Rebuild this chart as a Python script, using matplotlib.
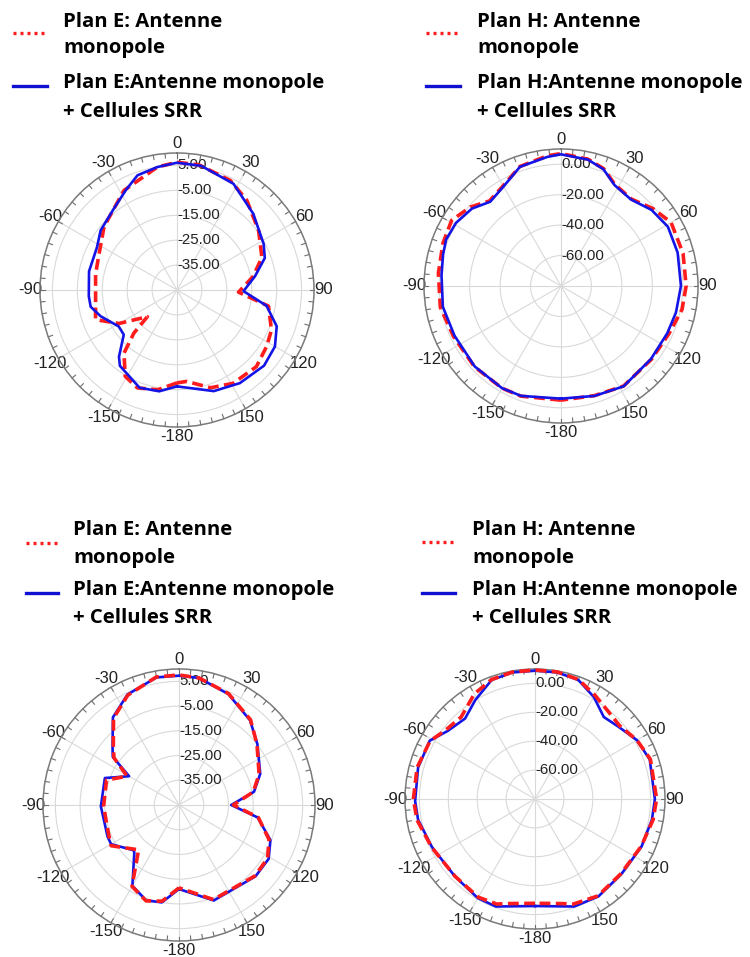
import numpy as np
import matplotlib.pyplot as plt
from matplotlib.lines import Line2D

plt.rcParams['font.family'] = ['Liberation Sans', 'DejaVu Sans']

W, H = 750, 957

# angle labels (deg) shown round every polar plot
theta_ticks = [0, 30, 60, 90, 120, 150, 180, 210, 240, 270, 300, 330]
theta_labels = ['0', '30', '60', '90', '120', '150', '-180', '-150', '-120', '-90', '-60', '-30']

# radial rings (dB)
rings_E = [-35, -25, -15, -5, 5]
rings_H = [-60, -40, -20, 0]

# ---- top left: plan E ----
ang_E1_ant = [-180, -169, -158, -149, -140, -135, -132, -120, -110, -92, -79, -65, -49, -28, -9,
              0, 10, 26, 38, 54, 69, 80, 92, 100, 113, 122, 134, 149, 161, 174]
gain_E1_ant = [-7.7, -4.2, -2.6, -4.6, -11.9, -20.5, -29.0, -18.1, -10.2, -12.3, -11.7, -10.5, -6.2, 0.3, 5.0,
               6.3, 6.0, 3.9, 0.6, -4.5, -8.5, -14.0, -20.3, -7.7, -3.8, -2.5, -0.7, -1.3, -3.5, -8.1]
ang_E1_srr = [-180, -170, -159, -143, -139, -130, -122, -109, -101, -94, -78, -62, -52, -38, -27, -19, -9,
              0, 11, 28, 45, 62, 70, 80, 91, 100, 110, 120, 131, 146, 160]
gain_E1_srr = [-6.3, -3.7, -3.0, -6.9, -9.5, -17.1, -17.4, -12.6, -9.7, -9.5, -8.9, -8.6, -6.1, -3.7, 0.1, 3.7, 5.0,
               6.1, 5.8, 3.3, -1.7, -5.6, -7.5, -13.2, -18.3, -8.5, -2.4, 0.4, 1.3, 0.1, -1.8]

# ---- top right: plan H ----
ang_H1_ant = [-180, -160, -150, -133, -115, -100, -84, -70, -59, -49, -40, -30, -19, -6,
              0, 12, 20, 28, 39, 50, 60, 75, 90, 101, 114, 129, 148, 163]
gain_H1_ant = [-5.0, -3.0, -2.5, -2.2, -2.0, 0.5, 1.0, 2.5, 3.8, -1.0, -7.0, -4.0, 3.0, 6.0,
               7.0, 5.2, 2.0, -4.5, -6.5, -1.0, 3.5, 3.0, 2.2, 1.0, -2.5, -3.5, -2.5, -4.7]
ang_H1_srr = [-180, -160, -150, -133, -115, -100, -85, -75, -68, -59, -49, -40, -30, -19, -6,
              0, 12, 20, 28, 39, 50, 61, 74, 90, 103, 114, 129, 148, 163]
gain_H1_srr = [-6.0, -3.2, -2.5, -2.5, -2.8, -1.2, -1.2, 0.2, 1.4, 0.5, -2.5, -7.7, -4.5, 2.8, 5.3,
               6.5, 4.9, 1.6, -5.0, -6.9, -2.3, 0.3, -0.3, -1.2, -2.5, -3.6, -3.9, -2.3, -4.5]

# ---- bottom left: plan E ----
ang_E2_ant = [-180, -170, -161, -150, -138, -121, -114, -91, -71, -61, -54, -49, -37, -25, -10,
              0, 9, 24, 40, 52, 69, 80, 90, 99, 111, 121, 133, 160]
gain_E2_ant = [-11.5, -5.5, -4.0, -7.0, -20.6, -13.0, -14.0, -14.5, -14.0, -21.0, -12.5, -9.8, -1.0, 4.0, 7.6,
               7.6, 7.0, 4.3, 0.0, -5.0, -10.3, -14.5, -23.0, -12.5, -6.0, -3.2, -3.0, -4.3]
ang_E2_srr = [-180, -170, -161, -150, -137, -135, -120, -114, -91, -70, -60, -54, -49, -37, -25, -10,
              0, 9, 24, 40, 52, 69, 80, 90, 99, 111, 121, 133, 160]
gain_E2_srr = [-11.0, -5.0, -4.2, -7.3, -18.5, -19.1, -13.3, -13.4, -13.4, -13.1, -21.7, -11.9, -9.4, -0.6, 4.3, 7.4,
               7.3, 7.0, 4.1, -0.3, -4.8, -9.8, -14.2, -23.9, -12.8, -5.4, -2.7, -2.7, -3.9]

# ---- bottom right: plan H ----
ang_H2_ant = [-180, -166, -160, -150, -134, -115, -100, -90, -75, -61, -52, -42, -30, -20, -10,
              0, 10, 20, 30, 40, 49, 60, 71, 90, 100, 114, 131, 147, 160, 166]
gain_H2_ant = [-7.8, -5.4, -2.6, -1.5, -3.0, -1.0, 3.0, 4.2, 4.5, 3.0, -2.0, -3.6, 4.0, 8.0, 9.3,
               9.3, 9.3, 8.0, 3.0, -1.0, -2.5, 1.5, 4.5, 4.2, 3.0, 0.5, -1.2, 0.0, -2.6, -5.4]
ang_H2_srr = [-180, -160, -150, -134, -115, -100, -91, -75, -61, -52, -41, -31, -20, -10,
              0, 10, 20, 30, 40, 49, 60, 71, 90, 100, 114, 131, 147, 160]
gain_H2_srr = [-5.9, -0.8, -0.8, -2.9, -1.3, 2.2, 3.0, 3.8, 3.3, -3.4, -6.2, 0.1, 7.7, 9.0,
               8.8, 9.0, 7.7, 1.5, -5.9, -3.6, 1.5, 4.0, 3.0, 2.2, 0.8, -0.8, 0.5, -0.8]

RED = '#ff1c1c'
BLUE = '#1414e6'
TICK_GREY = '#6e6e6e'


def closed(ang, g):
    a = np.deg2rad(np.append(ang, ang[0] + 360))
    return a, np.append(g, g[0])


def polar_panel(cx, cy, R, rmin, rmax, rings, ant, srr, red_top):
    ax = fig.add_axes([(cx - R) / W, (H - cy - R) / H, 2 * R / W, 2 * R / H], projection='polar')
    ax.set_theta_zero_location('N')
    ax.set_theta_direction(-1)
    ax.set_ylim(rmin, rmax)
    ax.set_yticks(rings)
    ax.set_yticklabels([])
    ax.set_xticks(np.deg2rad(theta_ticks))
    ax.set_xticklabels(theta_labels, fontsize=12, color='#222222')
    ax.tick_params(axis='x', which='major', length=0, pad=0)
    ax.grid(True, which='major', color='#d9d9d9', lw=0.8)
    ax.spines['polar'].set_color('#7a7a7a')
    ax.spines['polar'].set_linewidth(1.1)

    # small inward ticks every 5 deg on the rim
    dr = 4.5 / R * (rmax - rmin)
    for t in np.deg2rad(np.arange(0, 360, 5)):
        ax.plot([t, t], [rmax - dr, rmax], color=TICK_GREY, lw=0.8, zorder=2.5, clip_on=False)

    for r in rings:
        ax.text(0, r, f'{r:.2f}', ha='left', va='center', fontsize=10.8, color='#222222', zorder=2)
    a1, g1 = closed(*ant)
    a2, g2 = closed(*srr)
    z_red = 4 if red_top else 3
    ax.plot(a1, g1, color=RED, lw=2.6, dashes=(3.0, 1.5), zorder=z_red, clip_on=False)
    ax.plot(a2, g2, color=BLUE, lw=1.9, zorder=3.5, clip_on=False)
    ax.set_ylim(rmin, rmax)
    return ax


def legend(x0, x1, y_red, y_blue, x_text, bases, plane):
    fig.add_artist(Line2D([x0 / W, x1 / W], [1 - y_red / H] * 2, color=RED, lw=2.4,
                          dashes=(0.9, 1.2)))
    fig.add_artist(Line2D([x0 / W, x1 / W], [1 - y_blue / H] * 2, color='#1010d0', lw=2.4))
    lines = [f'Plan {plane}: Antenne', 'monopole', f'Plan {plane}:Antenne monopole', '+ Cellules SRR']
    for s, b in zip(lines, bases):
        fig.text(x_text / W, 1 - b / H, s, va='baseline', ha='left', fontsize=14.6,
                 fontweight='bold', family=['Open Sans', 'DejaVu Sans'], color='black')


fig = plt.figure(figsize=(W / 100, H / 100), dpi=100)

polar_panel(177, 290, 137, -45, 10, rings_E, (ang_E1_ant, gain_E1_ant), (ang_E1_srr, gain_E1_srr), False)
polar_panel(561, 286, 137, -80, 10, rings_H, (ang_H1_ant, gain_H1_ant), (ang_H1_srr, gain_H1_srr), False)
polar_panel(179, 805, 136, -45, 10, rings_E, (ang_E2_ant, gain_E2_ant), (ang_E2_srr, gain_E2_srr), True)
polar_panel(535, 799, 130, -80, 10, rings_H, (ang_H2_ant, gain_H2_ant), (ang_H2_srr, gain_H2_srr), True)

legend(13, 47, 33, 86, 63, [27, 53, 88, 117], 'E')
legend(426, 460, 33, 86, 477, [27, 53, 88, 117], 'H')
legend(26, 58, 543, 593, 73, [535, 563, 595, 623], 'E')
legend(422, 455, 542, 593, 472, [535, 563, 595, 623], 'H')

fig.savefig('out.png', dpi=100)
